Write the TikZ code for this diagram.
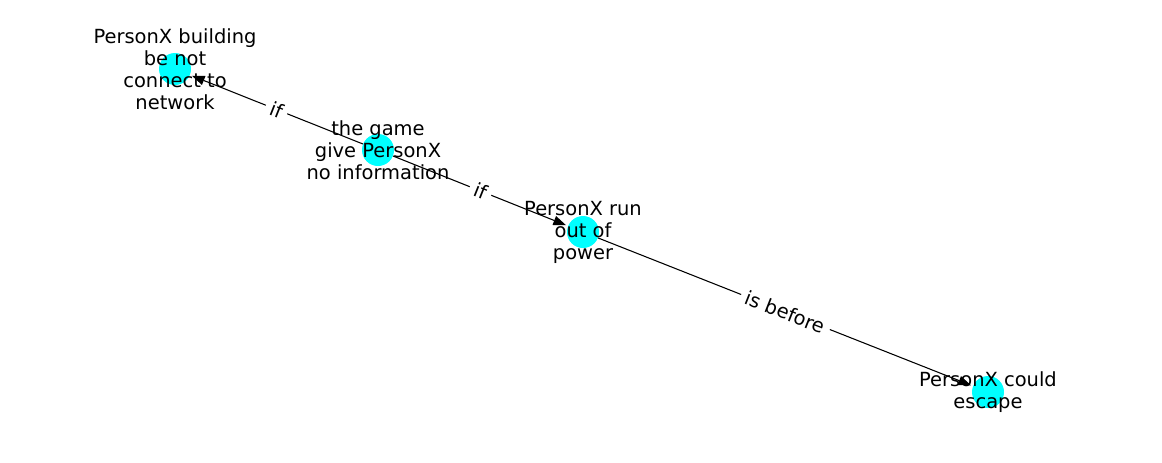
\documentclass[tikz,border=0pt]{standalone}
\usepackage{fontspec}
\setmainfont{DejaVu Sans}
\usetikzlibrary{arrows.meta}
\definecolor{nodecyan}{RGB}{0, 255, 255}
\tikzset{
	graph/.cd,
	dot/.style = {
		circle,
		fill = nodecyan,
		draw = none,
		minimum size = 24pt,
		inner sep = 0
	},
	edge/.style = {
		line width = 0.8pt,
		-{Triangle[length = 9.5pt, width = 7pt]},
		shorten > = 1.5pt
	},
	label/.style = {
		midway,
		sloped,
		fill = white,
		rounded corners = 3pt,
		inner sep = 4pt,
		font = \fontsize{14.6}{16.5}\selectfont
	},
}

\begin{document}
\begin{tikzpicture}[x = 0.75pt, y = -0.75pt,
		caption/.style = {
			align = center,
			font = \fontsize{14.6}{16.5}\selectfont
		}]
		\useasboundingbox (0, 0) rectangle (1162, 462);
		\node[graph/dot] (building) at (175, 69) {};
		\node[graph/dot] (game) at (378, 150) {};
		\node[graph/dot] (power) at (583, 232) {};
		\node[graph/dot] (escape) at (988, 392) {};
		\draw[graph/edge] (game) -- (building) node[graph/label] {if};
		\draw[graph/edge] (game) -- (power) node[graph/label] {if};
		\draw[graph/edge] (power) -- (escape) node[graph/label] {is before};
		\begin{scope}[caption]
			\node (building text) at (building) {PersonX building\\be not\\connect to\\network};
			\node (game text) at (game) {the game\\give PersonX\\no information};
			\node (power text) at (power) {PersonX run\\out of\\power};
			\node (escape text) at (escape) {PersonX could\\escape};
		\end{scope}
	\end{tikzpicture}
\end{document}
